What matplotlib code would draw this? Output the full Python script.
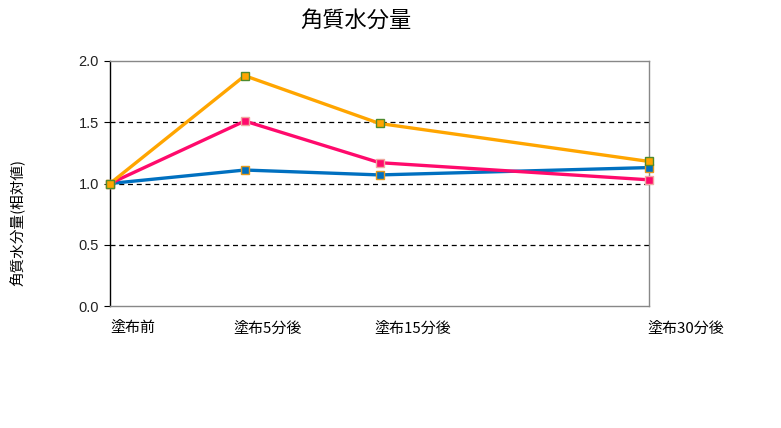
import matplotlib
matplotlib.use("Agg")
import matplotlib.pyplot as plt

plt.rcParams['font.family'] = ['Noto Sans CJK JP', 'DejaVu Sans']

categories = ["塗布前", "塗布5分後", "塗布15分後", "塗布30分後"]
x_pos = [0, 1, 2, 4]
orange_vals = [1.00, 1.88, 1.49, 1.18]
pink_vals = [1.00, 1.51, 1.17, 1.03]
blue_vals = [1.00, 1.11, 1.07, 1.13]
yticks = [0.0, 0.5, 1.0, 1.5, 2.0]
ytick_labels = ["0.0", "0.5", "1.0", "1.5", "2.0"]
title = "角質水分量"
ylabel = "角質水分量(相対値)"

fig = plt.figure(figsize=(7.81, 4.28), dpi=100)
ax = fig.add_axes([110/781, 1-306/428, (649-110)/781, (306-61)/428])

for yv in [0.5, 1.0, 1.5]:
    ax.axhline(yv, color='black', lw=0.9, ls=(0, (4, 3)), zorder=1)

series = [
    (blue_vals, '#0070C0', '#E39A1E'),
    (pink_vals, '#FF0A6C', '#F0A8A0'),
    (orange_vals, '#FFA500', '#4E8A2E'),
]
for vals, col, edge in series:
    ax.plot(x_pos, vals, color=col, lw=2.4, marker='s', ms=5.5,
            mfc=col, mec=edge, mew=1.0, zorder=3, clip_on=False)

ax.set_xlim(0, 4)
ax.set_ylim(0, 2.0)
ax.set_yticks(yticks)
ax.set_yticklabels(ytick_labels, fontsize=10.5, color='#222222',
                   family=['Liberation Sans', 'DejaVu Sans'])
ax.set_xticks([])
ax.tick_params(axis='y', length=4, width=0.8, direction='out', pad=4)

for s in ['top', 'right', 'bottom']:
    ax.spines[s].set_color('#888888')
    ax.spines[s].set_linewidth(1.0)
ax.spines['left'].set_color('black')
ax.spines['left'].set_linewidth(1.0)

label_offsets = [0, -8, -4, -1]
for xp, lab, off in zip(x_pos, categories, label_offsets):
    ax.annotate(lab, xy=(xp, 0), xycoords='data', xytext=(off, -11),
                textcoords='offset points', ha='left', va='top', fontsize=10.8)

fig.text(356/781, 1-20/428, title, ha='center', va='center', fontsize=16)
fig.text(18/781, 1-222/428, ylabel, ha='center', va='center', rotation=90, fontsize=10.5)

fig.savefig("out.png", dpi=100)
